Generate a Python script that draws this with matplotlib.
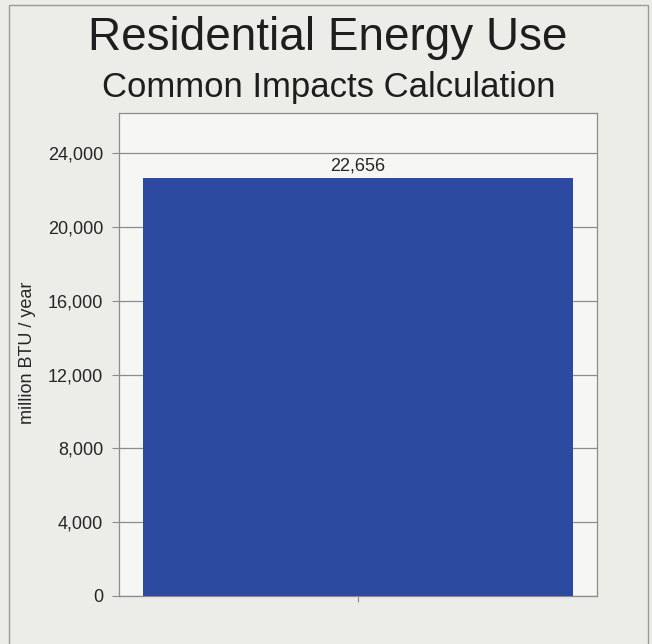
"""
Residential energy use, common impacts calculation: single bar chart.
"""

import matplotlib
matplotlib.use('Agg')
import matplotlib.pyplot as plt
from matplotlib.patches import Rectangle
from matplotlib.ticker import FuncFormatter

# Data
categories = ['Residential']
values = [22656]
y_ticks = [0, 4000, 8000, 12000, 16000, 20000, 24000]
y_max = 26170

TITLE = 'Residential Energy Use'
SUBTITLE = 'Common Impacts Calculation'
Y_LABEL = 'million BTU / year'

# Style
BG_COLOR = '#ECECE8'
AX_COLOR = '#F6F6F4'
BAR_COLOR = '#2B4AA0'
LINE_COLOR = '#8C8C8C'
TEXT_COLOR = '#262626'

plt.rcParams['font.family'] = ['Liberation Sans', 'DejaVu Sans']

W, H = 652, 644
fig = plt.figure(figsize=(W / 100, H / 100), dpi=100, facecolor=BG_COLOR)

# outer panel frame (runs past the bottom edge)
fig.add_artist(Rectangle((9 / W, -0.05), (648 - 9) / W, 1.05 - 5 / H,
                         transform=fig.transFigure, facecolor='none',
                         edgecolor='#9A9A9A', linewidth=1.0))

ax = fig.add_axes([119 / W, 1 - 596 / H, (597 - 119) / W, (596 - 113) / H])
ax.set_facecolor(AX_COLOR)

x = list(range(len(categories)))
bars = ax.bar(x, values, width=0.9, color=BAR_COLOR, zorder=3)

for b, v in zip(bars, values):
    ax.annotate(f'{v:,}', (b.get_x() + b.get_width() / 2, v),
                xytext=(0, 5), textcoords='offset points',
                ha='center', va='baseline', fontsize=13, color=TEXT_COLOR)

ax.set_xlim(-0.5, 0.5)
ax.set_ylim(0, y_max)
ax.set_yticks(y_ticks)
ax.yaxis.set_major_formatter(FuncFormatter(lambda v, _: f'{int(v):,}'))
ax.set_xticks(x)
ax.set_xticklabels([''])

ax.tick_params(axis='y', direction='out', length=5, width=0.8, color=LINE_COLOR,
               pad=6.5, labelsize=13, labelcolor=TEXT_COLOR)
ax.tick_params(axis='x', direction='out', length=4, width=0.8, color=LINE_COLOR)

ax.grid(axis='y', color=LINE_COLOR, linewidth=0.9, zorder=1)
ax.set_axisbelow(True)
for s in ax.spines.values():
    s.set_color(LINE_COLOR)
    s.set_linewidth(0.9)

fig.text(28 / W, 1 - 353 / H, Y_LABEL, rotation=90, ha='center', va='center',
         fontsize=13, color=TEXT_COLOR)

fig.text(328 / W, 1 - 50 / H, TITLE, ha='center', va='baseline',
         fontsize=33, color='#1E1E1E')
fig.text(329 / W, 1 - 97 / H, SUBTITLE, ha='center', va='baseline',
         fontsize=25, color='#1E1E1E')

fig.savefig('out.png', dpi=100, facecolor=BG_COLOR)
